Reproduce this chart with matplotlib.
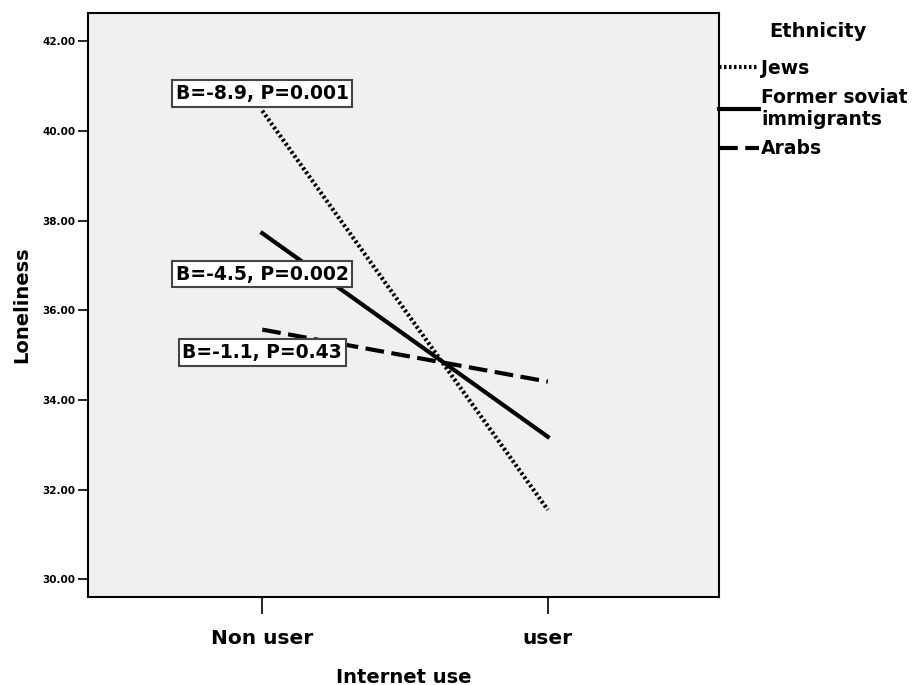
import matplotlib
matplotlib.use('Agg')
import matplotlib.pyplot as plt

# values
GROUPS = ['Non user', 'user']
JEWS = [40.45, 31.55]
SOVIET = [37.72, 33.18]
ARABS = [35.57, 34.41]
SERIES_NAMES = ['Jews', 'Former soviat\nimmigrants', 'Arabs']
NOTES = ['B=-8.9, P=0.001', 'B=-4.5, P=0.002', 'B=-1.1, P=0.43']
NOTE_Y = [40.84, 36.81, 35.06]
Y_TICKS = [30, 32, 34, 36, 38, 40, 42]

plt.rcParams['font.family'] = ['DejaVu Sans']

fig = plt.figure(figsize=(9.15, 6.85), dpi=100)
ax = fig.add_axes([0.0962, 0.128, 0.786 - 0.0962, 0.981 - 0.128])
ax.set_facecolor('#f0f0f0')

x = list(range(len(GROUPS)))
l1, = ax.plot(x, JEWS, color='black', lw=3, linestyle=(0, (0.6, 0.6)), solid_capstyle='butt')
l2, = ax.plot(x, SOVIET, color='black', lw=3, linestyle='-')
l3, = ax.plot(x, ARABS, color='black', lw=3, linestyle=(0, (4.5, 1.8)))

for note, ny in zip(NOTES, NOTE_Y):
    ax.text(0, ny, note, ha='center', va='center', fontsize=13.5, fontweight='bold',
            bbox=dict(boxstyle='square,pad=0.2', facecolor='white', edgecolor='#444444', lw=1.5),
            zorder=5)

ax.set_xlim(-0.61, 1.6)
ax.set_ylim(29.6, 42.63)
ax.set_xticks(x)
ax.set_xticklabels(GROUPS, fontsize=14.5, fontweight='bold')
ax.set_yticks(Y_TICKS)
ax.set_yticklabels(['%.2f' % v for v in Y_TICKS], fontsize=7.5, fontweight='bold')
ax.tick_params(axis='y', length=7, width=1.2, pad=2)
ax.tick_params(axis='x', length=12, width=1.2, pad=11)
for s in ax.spines.values():
    s.set_linewidth(1.5)

ax.set_ylabel('Loneliness', fontsize=14, fontweight='bold', labelpad=8)
ax.set_xlabel('Internet use', fontsize=14, fontweight='bold', labelpad=14)

# legend, title placed separately to get the wider gap
ax.text(1.157, 0.969, 'Ethnicity', transform=ax.transAxes, ha='center', va='center',
        fontsize=14, fontweight='bold')
ax.legend([l1, l2, l3], SERIES_NAMES, loc='upper left', bbox_to_anchor=(1.0, 0.922),
          frameon=False, borderaxespad=0, borderpad=0,
          handlelength=2.1, handletextpad=0.15, labelspacing=0.55,
          prop={'size': 13.5, 'weight': 'bold'})

fig.savefig('out.png', dpi=100)
